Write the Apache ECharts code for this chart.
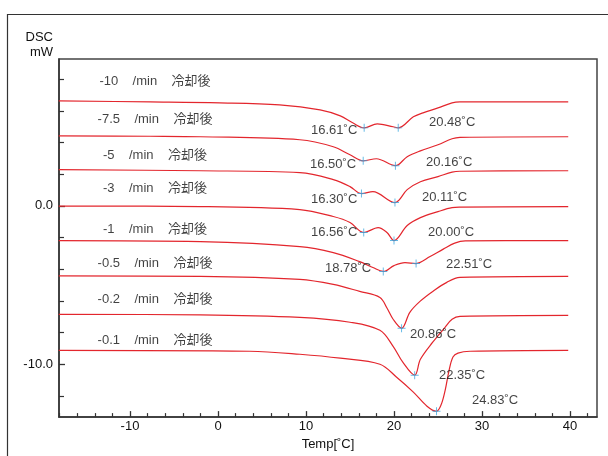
<!DOCTYPE html>
<html><head><meta charset="utf-8">
<script src="https://cdn.jsdelivr.net/npm/echarts@6/dist/echarts.min.js"></script>
<style>html,body{margin:0;padding:0;background:#fff}#c{width:608px;height:456px}</style>
</head><body><div id="c"></div>
<script>
// cooling-rate labels (top to bottom)
const rates = ['-10', '-7.5', '-5', '-3', '-1', '-0.5', '-0.2', '-0.1'];
// DSC curves [Temp °C, mW]
const curveM10 = [[-18.1,6.63],[-7.7,6.57],[0.2,6.51],[7.0,6.38],[11.6,6.07],[13.9,5.69],[15.3,5.25],[16.61,4.93],[18.1,5.18],[19.9,5.0],[20.48,4.93],[22.2,5.63],[23.3,5.88],[25.0,6.19],[26.6,6.51],[27.5,6.57],[39.8,6.57]];
const curveM7_5 = [[-18.1,4.43],[-7.7,4.40],[-2.0,4.37],[9.3,4.18],[13.1,3.74],[15.0,3.23],[16.50,2.85],[18.0,2.98],[20.16,2.54],[21.5,3.11],[23.0,3.48],[25.0,3.86],[26.6,4.24],[27.5,4.33],[39.8,4.37]];
const curveM5 = [[-18.1,2.29],[-2.0,2.22],[9.3,2.10],[13.1,1.66],[15.0,1.22],[16.30,0.78],[17.6,0.90],[20.11,0.21],[21.5,1.03],[23.0,1.53],[25.0,1.85],[26.6,2.13],[27.5,2.19],[39.8,2.22]];
const curveM3 = [[-18.1,-0.01],[-2.0,-0.04],[9.3,-0.23],[13.1,-0.67],[15.0,-1.05],[16.56,-1.68],[18.2,-1.37],[19.2,-1.68],[20.00,-2.19],[21.5,-1.24],[23.0,-0.74],[25.0,-0.36],[26.6,-0.11],[27.5,-0.08],[39.8,-0.04]];
const curveM1 = [[-18.1,-2.19],[-2.0,-2.26],[9.3,-2.57],[13.1,-2.95],[16.1,-3.52],[17.6,-3.89],[18.78,-4.14],[20.0,-3.77],[21.25,-3.58],[22.51,-3.64],[24.1,-3.20],[25.6,-2.73],[26.9,-2.35],[28.1,-2.21],[39.8,-2.19]];
const curveM05 = [[-18.1,-4.42],[-2.0,-4.45],[9.3,-4.64],[13.1,-4.96],[16.1,-5.40],[18.4,-5.78],[19.2,-6.45],[19.9,-7.16],[20.86,-7.73],[21.8,-6.72],[22.95,-6.03],[24.4,-5.40],[26.0,-4.83],[27.5,-4.52],[39.8,-4.45]];
const curveM02 = [[-18.1,-6.85],[-2.0,-6.88],[9.3,-7.04],[15.0,-7.35],[18.4,-7.86],[19.9,-8.87],[21.0,-9.87],[22.35,-10.69],[23.0,-9.69],[24.4,-8.61],[25.8,-7.67],[26.6,-7.16],[27.5,-6.98],[39.8,-6.91]];
const curveM01 = [[-18.1,-9.12],[3.6,-9.18],[9.3,-9.37],[13.9,-9.62],[18.4,-10.0],[20.3,-10.82],[22.2,-11.76],[23.75,-12.65],[24.83,-12.97],[25.34,-12.58],[25.8,-11.68],[26.25,-10.42],[26.7,-9.55],[27.27,-9.30],[28.64,-9.18],[39.8,-9.12]];
const curves = [curveM10, curveM7_5, curveM5, curveM3, curveM1, curveM05, curveM02, curveM01];
// peak markers [Temp, mW]
const peakPoints = [[16.61,4.93],[20.48,4.93],[16.50,2.85],[20.16,2.54],[16.30,0.78],[20.11,0.21],[16.56,-1.68],[20.00,-2.19],[18.78,-4.14],[22.51,-3.64],[20.86,-7.73],[22.35,-10.69],[24.83,-12.97]];
const peakTexts = ['16.61˚C','20.48˚C','16.50˚C','20.16˚C','16.30˚C','20.11˚C','16.56˚C','20.00˚C','18.78˚C','22.51˚C','20.86˚C','22.35˚C','24.83˚C'];
// peak label anchors (left edge) in data coords
const peakTextAt = [[10.57,4.80],[23.98,5.25],[10.45,2.60],[23.64,2.73],[10.57,0.40],[23.18,0.52],[10.57,-1.68],[23.86,-1.68],[12.16,-3.97],[25.91,-3.70],[21.82,-8.11],[25.11,-10.69],[28.86,-12.26]];
// row label anchors (centre) in data coords
const rowTextX = -7.16;
const rowTextY = [7.84, 5.45, 3.17, 1.09, -1.49, -3.64, -5.91, -8.49];
// axis ticks
const xMajor = [-10, 0, 10, 20, 30, 40];
const xMinor = [-18,-16,-14,-12,-8,-6,-4,-2,2,4,6,8,12,14,16,18,22,24,26,28,32,34,36,38,42];
const yMajor = [-10, 0];
const yMajorLabels = {'-10': '-10.0', '0': '0.0'};
const yMinor = [-12,-8,-6,-4,-2,2,4,6,8];

const FONT = "'Liberation Sans', Arial, 'Noto Sans CJK JP', sans-serif";
const X_MIN = -18.07, X_MAX = 43.07, Y_MIN = -13.34, Y_MAX = 9.28;
const AX = '#333';

const chart = echarts.init(document.getElementById('c'), null, {renderer: 'canvas'});

const series = curves.map((d, i) => ({
  type: 'line', data: d, smooth: 0.35, symbol: 'none', xAxisIndex: 0, yAxisIndex: 0,
  lineStyle: {color: '#e3262d', width: 1.2}, z: 3, silent: true
}));
series.push({
  type: 'scatter', data: peakPoints, xAxisIndex: 0, yAxisIndex: 0,
  symbol: 'path://M4.4,0H5.6V4.4H10V5.6H5.6V10H4.4V5.6H0V4.4H4.4Z', symbolSize: 8,
  itemStyle: {color: '#3aa7e0'}, z: 5, silent: true
});
series.push({
  type: 'scatter', xAxisIndex: 0, yAxisIndex: 0, symbolSize: 0, silent: true, z: 6,
  data: peakTextAt.map((p, i) => ({value: p, label: {formatter: peakTexts[i]}})),
  label: {show: true, position: [0, 0], align: 'left', verticalAlign: 'middle', color: '#111', fontSize: 13, fontFamily: FONT}
});
series.push({
  type: 'scatter', xAxisIndex: 0, yAxisIndex: 0, symbolSize: 0, silent: true, z: 6,
  data: rowTextY.map((y, i) => ({value: [rowTextX, y], label: {formatter: rates[i] + '    /min    冷却後'}})),
  label: {show: true, position: [0, 0], align: 'center', verticalAlign: 'middle', color: '#111', fontSize: 13, fontFamily: FONT}
});

chart.setOption({
  animation: false,
  backgroundColor: '#fff',
  textStyle: {fontFamily: FONT},
  grid: {left: 59, top: 59, width: 538, height: 359, show: true, borderColor: '#444', borderWidth: 1.5, backgroundColor: 'transparent'},
  xAxis: [
    {type: 'value', min: X_MIN, max: X_MAX, position: 'bottom',
     name: 'Temp[˚C]', nameLocation: 'middle', nameGap: 16,
     nameTextStyle: {color: '#111', fontSize: 13, fontFamily: FONT},
     axisLine: {show: true, onZero: false, lineStyle: {color: AX, width: 1.5}},
     axisTick: {show: true, inside: true, length: 6, customValues: xMajor, lineStyle: {color: AX, width: 1.3}},
     axisLabel: {show: true, customValues: xMajor, margin: 3, color: '#111', fontSize: 13, fontFamily: FONT},
     splitLine: {show: false}},
    {type: 'value', min: X_MIN, max: X_MAX, position: 'bottom',
     axisLine: {show: false, onZero: false},
     axisTick: {show: true, inside: true, length: 4, customValues: xMinor, lineStyle: {color: AX, width: 1.2}},
     axisLabel: {show: false}, splitLine: {show: false}}
  ],
  yAxis: [
    {type: 'value', min: Y_MIN, max: Y_MAX, position: 'left',
     axisLine: {show: true, onZero: false, lineStyle: {color: AX, width: 1.5}},
     axisTick: {show: true, inside: true, length: 6, customValues: yMajor, lineStyle: {color: AX, width: 1.3}},
     axisLabel: {show: true, customValues: yMajor, margin: 6, color: '#111', fontSize: 13, fontFamily: FONT,
                 formatter: v => yMajorLabels[String(Math.round(v))]},
     splitLine: {show: false}},
    {type: 'value', min: Y_MIN, max: Y_MAX, position: 'left',
     axisLine: {show: false, onZero: false},
     axisTick: {show: true, inside: true, length: 5, customValues: yMinor, lineStyle: {color: AX, width: 1.2}},
     axisLabel: {show: false}, splitLine: {show: false}}
  ],
  graphic: [
    {type: 'rect', shape: {x: 7.5, y: 14.5, width: 800, height: 800}, style: {fill: 'none', stroke: '#333', lineWidth: 1.2}, silent: true},
    {type: 'text', x: 53, y: 37, style: {text: 'DSC', align: 'right', verticalAlign: 'middle', fill: '#111', font: "13px " + FONT}},
    {type: 'text', x: 53, y: 52, style: {text: 'mW', align: 'right', verticalAlign: 'middle', fill: '#111', font: "13px " + FONT}}
  ],
  series: series
});
</script></body></html>
